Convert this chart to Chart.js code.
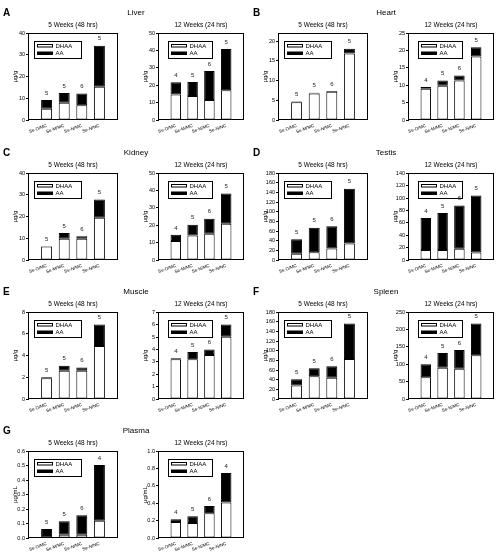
<!DOCTYPE html>
<html>
<head>
<meta charset="utf-8">
<script src="https://cdn.jsdelivr.net/npm/chart.js@4.4.1/dist/chart.umd.min.js"></script>
<style>
  body { margin: 0; background: #fff; }
  #fig { position: relative; width: 499px; height: 555px; }
  canvas { position: absolute; }
</style>
</head>
<body>
<div id="fig"><canvas id="texts" width="499" height="555" style="left:0;top:0"></canvas></div>
<script>
const groups = ['Se-D/MC', 'Se-M/MC', 'Se-N/MC', 'Se-N/NC'];

// Liver
const liver5Dhaa = [5.2, 8.0, 6.8, 15.3];
const liver5Aa = [4.0, 4.5, 5.4, 19.0];
const liver5N = [5, 5, 6, 5];
const liver12Dhaa = [14.7, 13.8, 11.5, 17.2];
const liver12Aa = [7.1, 8.1, 16.7, 23.8];
const liver12N = [4, 5, 6, 5];

// Heart
const heart5Dhaa = [4.5, 6.7, 7.2, 16.9];
const heart5Aa = [0.2, 0.2, 0.15, 1.2];
const heart5N = [5, 5, 6, 5];
const heart12Dhaa = [9.0, 9.9, 11.4, 18.3];
const heart12Aa = [0.5, 1.5, 1.4, 2.7];
const heart12N = [4, 5, 6, 5];

// Kidney
const kidney5Dhaa = [6.2, 9.8, 9.8, 19.5];
const kidney5Aa = [0.2, 2.6, 1.2, 8.4];
const kidney5N = [5, 5, 6, 5];
const kidney12Dhaa = [10.9, 14.1, 15.1, 20.9];
const kidney12Aa = [3.6, 6.2, 8.7, 17.5];
const kidney12N = [4, 5, 6, 5];

// Testis
const testis5Dhaa = [13, 16, 24, 34];
const testis5Aa = [30, 51, 46, 114];
const testis5N = [5, 5, 6, 5];
const testis12Dhaa = [16, 16, 18, 12];
const testis12Aa = [52, 60, 70, 92];
const testis12N = [4, 5, 6, 5];

// Muscle
const muscle5Dhaa = [1.92, 2.6, 2.6, 4.9];
const muscle5Aa = [0.08, 0.47, 0.3, 1.98];
const muscle5N = [5, 5, 6, 5];
const muscle12Dhaa = [3.2, 3.2, 3.55, 5.02];
const muscle12Aa = [0.08, 0.6, 0.44, 1.0];
const muscle12N = [4, 5, 6, 5];

// Spleen
const spleen5Dhaa = [28, 47, 44, 83];
const spleen5Aa = [13, 17, 24, 74];
const spleen5N = [5, 5, 6, 5];
const spleen12Dhaa = [63, 90, 87, 126];
const spleen12Aa = [37, 43, 54, 92];
const spleen12N = [4, 5, 6, 5];

// Plasma
const plasma5Dhaa = [0.004, 0.023, 0.023, 0.12];
const plasma5Aa = [0.058, 0.093, 0.135, 0.385];
const plasma5N = [5, 5, 6, 4];
const plasma12Dhaa = [0.185, 0.172, 0.285, 0.41];
const plasma12Aa = [0.03, 0.08, 0.085, 0.34];
const plasma12N = [4, 5, 6, 4];

const subTitles = ['5 Weeks (48 hrs)', '12 Weeks (24 hrs)'];

const panels = [
  { letter: 'A', tissue: 'Liver', unit: 'µg/g', row: 0, col: 0, charts: [
    { dhaa: liver5Dhaa, aa: liver5Aa, n: liver5N, max: 40, step: 10 },
    { dhaa: liver12Dhaa, aa: liver12Aa, n: liver12N, max: 50, step: 10 }] },
  { letter: 'B', tissue: 'Heart', unit: 'µg/g', row: 0, col: 1, charts: [
    { dhaa: heart5Dhaa, aa: heart5Aa, n: heart5N, max: 22, step: 5 },
    { dhaa: heart12Dhaa, aa: heart12Aa, n: heart12N, max: 25, step: 5 }] },
  { letter: 'C', tissue: 'Kidney', unit: 'µg/g', row: 1, col: 0, charts: [
    { dhaa: kidney5Dhaa, aa: kidney5Aa, n: kidney5N, max: 40, step: 10 },
    { dhaa: kidney12Dhaa, aa: kidney12Aa, n: kidney12N, max: 50, step: 10 }] },
  { letter: 'D', tissue: 'Testis', unit: 'µg/g', row: 1, col: 1, charts: [
    { dhaa: testis5Dhaa, aa: testis5Aa, n: testis5N, max: 180, step: 20 },
    { dhaa: testis12Dhaa, aa: testis12Aa, n: testis12N, max: 140, step: 20 }] },
  { letter: 'E', tissue: 'Muscle', unit: 'µg/g', row: 2, col: 0, charts: [
    { dhaa: muscle5Dhaa, aa: muscle5Aa, n: muscle5N, max: 8, step: 2 },
    { dhaa: muscle12Dhaa, aa: muscle12Aa, n: muscle12N, max: 7, step: 1 }] },
  { letter: 'F', tissue: 'Spleen', unit: 'µg/g', row: 2, col: 1, charts: [
    { dhaa: spleen5Dhaa, aa: spleen5Aa, n: spleen5N, max: 180, step: 20 },
    { dhaa: spleen12Dhaa, aa: spleen12Aa, n: spleen12N, max: 250, step: 50 }] },
  { letter: 'G', tissue: 'Plasma', unit: 'µg/mL', row: 3, col: 0, charts: [
    { dhaa: plasma5Dhaa, aa: plasma5Aa, n: plasma5N, max: 0.6, step: 0.1 },
    { dhaa: plasma12Dhaa, aa: plasma12Aa, n: plasma12N, max: 1.0, step: 0.2 }] },
];

// layout
const rowTops = [33, 173, 312, 451];
const colOffsets = [0, 250];
const subLefts = [29, 159];
const subWidths = [88, 84];
const legendDx = [5, 9];
const legendW = [47, 44];
const plotH = 87;
const yW = 22, xH = 20, padT = 4, padR = 3;
const family = '"Liberation Sans", Arial, sans-serif';

const fig = document.getElementById('fig');
const tctx = document.getElementById('texts').getContext('2d');
tctx.fillStyle = '#000';
tctx.textBaseline = 'middle';

function addText(font, align, text, x, y) {
  tctx.font = font;
  tctx.textAlign = align;
  tctx.fillText(text, x, y);
}

// box around the plot area
const framePlugin = {
  id: 'frame',
  afterDraw(chart) {
    const a = chart.chartArea;
    const ctx = chart.ctx;
    ctx.save();
    ctx.strokeStyle = '#000';
    ctx.lineWidth = 1;
    ctx.strokeRect(Math.round(a.left) - 0.5, Math.round(a.top) + 0.5,
      Math.round(a.right - a.left) + 1, Math.round(a.bottom - a.top) - 1);
    ctx.restore();
  }
};

// boxed legend inside the plot
const legendBox = {
  id: 'legendBox',
  afterDraw(chart, args, opts) {
    const a = chart.chartArea;
    const ctx = chart.ctx;
    const x = Math.round(a.left + opts.dx) + 0.5;
    const y = Math.round(a.top + 8) + 0.5;
    ctx.save();
    ctx.fillStyle = '#fff';
    ctx.strokeStyle = '#000';
    ctx.lineWidth = 1;
    ctx.fillRect(x, y, opts.w, 17);
    ctx.strokeRect(x, y, opts.w, 17);
    ctx.fillRect(x + 3, y + 3, 15, 2.5);
    ctx.strokeRect(x + 3, y + 3, 15, 2.5);
    ctx.fillStyle = '#000';
    ctx.fillRect(x + 2.5, y + 10, 16, 3.5);
    ctx.font = '6px ' + family;
    ctx.textBaseline = 'middle';
    ctx.fillText('DHAA', x + 21, y + 4.5);
    ctx.fillText('AA', x + 21, y + 12);
    ctx.restore();
  }
};

// sample size above each bar
const nLabels = {
  id: 'nLabels',
  afterDraw(chart, args, opts) {
    const ctx = chart.ctx;
    const ds = chart.data.datasets;
    ctx.save();
    ctx.fillStyle = '#222';
    ctx.font = '6px ' + family;
    ctx.textAlign = 'center';
    ctx.textBaseline = 'middle';
    opts.n.forEach((n, i) => {
      const total = ds[0].data[i].y + ds[1].data[i].y;
      const px = chart.scales.x.getPixelForValue(i + 1);
      const py = chart.scales.y.getPixelForValue(total) - 7;
      ctx.fillText(n, px, py);
    });
    ctx.restore();
  }
};

function makeChart(panel, sub, k) {
  const plotTop = rowTops[panel.row];
  const plotLeft = colOffsets[panel.col] + subLefts[k];
  const plotW = subWidths[k];
  const canvas = document.createElement('canvas');
  canvas.width = yW + plotW + padR;
  canvas.height = padT + plotH + xH;
  canvas.style.left = (plotLeft - yW) + 'px';
  canvas.style.top = (plotTop - padT) + 'px';
  fig.appendChild(canvas);

  new Chart(canvas, {
    type: 'bar',
    data: {
      datasets: [
        {
          label: 'DHAA',
          data: sub.dhaa.map((v, i) => ({ x: i + 1, y: v })),
          backgroundColor: '#fff', borderColor: '#000', borderWidth: 1, borderSkipped: false,
          barPercentage: 0.78, categoryPercentage: 0.8
        },
        {
          label: 'AA',
          data: sub.aa.map((v, i) => ({ x: i + 1, y: v })),
          backgroundColor: '#000', borderColor: '#000', borderWidth: 1, borderSkipped: false,
          barPercentage: 0.78, categoryPercentage: 0.8
        }
      ]
    },
    options: {
      responsive: false,
      animation: false,
      events: [],
      layout: { padding: { top: padT, right: padR, left: 0, bottom: 0 } },
      plugins: {
        legend: { display: false },
        tooltip: { enabled: false },
        legendBox: { dx: legendDx[k], w: legendW[k] },
        nLabels: { n: sub.n }
      },
      scales: {
        x: {
          type: 'linear', stacked: true, min: 0, max: 5, offset: false,
          grid: { display: false, drawTicks: false },
          border: { display: false },
          afterBuildTicks: (s) => { s.ticks = groups.map((g, i) => ({ value: i + 1 })); },
          ticks: {
            autoSkip: false, minRotation: 20, maxRotation: 20, padding: 3, color: '#000',
            font: { size: 4.5, family: family },
            callback: (v) => groups[v - 1]
          },
          afterFit: (s) => { s.height = xH; }
        },
        y: {
          stacked: true, min: 0, max: sub.max,
          grid: { drawOnChartArea: false, drawTicks: true, tickLength: 3, color: '#000' },
          border: { display: false },
          ticks: {
            stepSize: sub.step, includeBounds: false, padding: 1, color: '#000',
            font: { size: 5.5, family: family },
            callback: (v) => sub.step < 1 ? v.toFixed(1) : v
          },
          title: { display: true, text: panel.unit, color: '#000', font: { size: 6, family: family }, padding: { top: 5, bottom: 0 } },
          afterFit: (s) => { s.width = yW; }
        }
      }
    },
    plugins: [framePlugin, legendBox, nLabels]
  });
}

panels.forEach((p) => {
  const top = rowTops[p.row];
  const off = colOffsets[p.col];
  addText('bold 10px ' + family, 'left', p.letter, off + 3, top - 20);
  addText('8px ' + family, 'center', p.tissue, off + 136, top - 20);
  p.charts.forEach((sub, k) => {
    addText('6.5px ' + family, 'center', subTitles[k], off + subLefts[k] + subWidths[k] / 2, top - 8);
    makeChart(p, sub, k);
  });
});
</script>
</body>
</html>
